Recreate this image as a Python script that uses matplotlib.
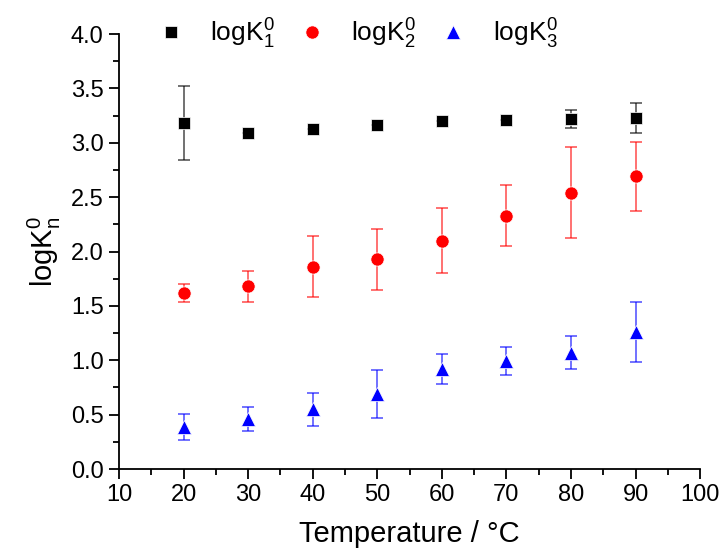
import numpy as np
import matplotlib
matplotlib.use('Agg')
import matplotlib.pyplot as plt
from matplotlib.ticker import MultipleLocator

plt.rcParams['font.family'] = ['Liberation Sans', 'DejaVu Sans']
plt.rcParams['mathtext.fontset'] = 'custom'
plt.rcParams['mathtext.rm'] = 'Liberation Sans'
plt.rcParams['mathtext.it'] = 'Liberation Sans'

# data
temperature = [20, 30, 40, 50, 60, 70, 80, 90]

logk1 = [3.18, 3.09, 3.13, 3.16, 3.20, 3.21, 3.22, 3.23]
logk1_err = [0.34, 0.0, 0.0, 0.0, 0.0, 0.0, 0.08, 0.14]

logk2 = [1.62, 1.68, 1.86, 1.93, 2.10, 2.33, 2.54, 2.69]
logk2_err = [0.08, 0.14, 0.28, 0.28, 0.30, 0.28, 0.42, 0.32]

logk3 = [0.39, 0.46, 0.55, 0.69, 0.92, 0.99, 1.07, 1.26]
logk3_err = [0.12, 0.11, 0.15, 0.22, 0.14, 0.13, 0.15, 0.28]

fig = plt.figure(figsize=(7.27, 5.54), dpi=100)
ax = fig.add_axes([0.1637, 0.1534, 0.7993, 0.7852])

series = [
    (logk1, logk1_err, 's', 'black', 9, r'$\mathrm{logK}_1^0$'),
    (logk2, logk2_err, 'o', 'red', 9.5, r'$\mathrm{logK}_2^0$'),
    (logk3, logk3_err, '^', 'blue', 10, r'$\mathrm{logK}_3^0$'),
]
for vals, err, mk, col, ms, lab in series:
    ax.errorbar(temperature, vals, yerr=err, fmt='none', ecolor=col,
                elinewidth=1.3, capsize=4, capthick=1.3, alpha=0.6, zorder=2)
    ax.plot(temperature, vals, linestyle='none', marker=mk, color=col,
            markersize=ms, markeredgecolor='white', markeredgewidth=0.5,
            label=lab, zorder=3)

ax.set_xlim(10, 100)
ax.set_ylim(0, 4.0)
ax.xaxis.set_major_locator(MultipleLocator(10))
ax.xaxis.set_minor_locator(MultipleLocator(5))
ax.yaxis.set_major_locator(MultipleLocator(0.5))
ax.yaxis.set_minor_locator(MultipleLocator(0.25))
ax.yaxis.set_major_formatter(matplotlib.ticker.FormatStrFormatter('%.1f'))

for s in ['top', 'right']:
    ax.spines[s].set_visible(False)
for s in ['left', 'bottom']:
    ax.spines[s].set_linewidth(1.3)

ax.tick_params(which='major', direction='out', length=7, width=1.3,
               labelsize=17, pad=4)
ax.tick_params(which='minor', direction='out', length=4, width=1.3)

ax.set_xlabel('Temperature / °C', fontsize=21, labelpad=10)
ax.set_ylabel(r'$\mathrm{logK}_n^0$', fontsize=21, labelpad=6)

ax.legend(loc='center', bbox_to_anchor=(0.41, 1.0), ncol=3, frameon=False,
          fontsize=19, handletextpad=1.0, columnspacing=0.9,
          handlelength=1.0)

plt.savefig('out.png', dpi=100)
plt.close()
